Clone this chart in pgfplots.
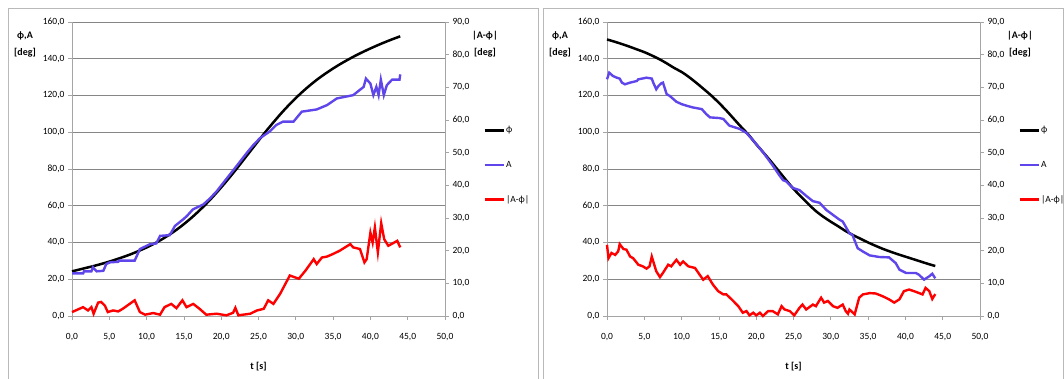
\documentclass[border=0pt]{standalone}
\usepackage{fontspec}
\setmainfont{Carlito}
\usepackage{pgfplots}
\pgfplotsset{compat=1.18}

\definecolor{gridc}{RGB}{134,134,134}
\definecolor{axc}{RGB}{165,165,165}
\definecolor{framec}{RGB}{185,185,185}
\definecolor{Ablue}{RGB}{95,70,235}
\definecolor{Ared}{RGB}{255,0,0}

\pgfplotsset{
  chartbase/.style={
    scale only axis, width=373pt, height=294pt,
    xmin=0, xmax=50, xtick distance=5,
    /pgf/number format/fixed, /pgf/number format/fixed zerofill,
    /pgf/number format/precision=1, /pgf/number format/use comma,
    /pgf/number format/assume math mode=true,
    tick label style={font=\fontsize{9.5}{11}\selectfont},
    xticklabel style={yshift=-10pt},
    tick align=outside, major tick length=4pt,
    tick style={axc, line width=0.8pt},
    axis line style={axc, line width=0.8pt, -},
    clip=false,
  },
  leftax/.style={chartbase,
    ymin=0, ymax=160, ytick distance=20,
    axis y line*=left, axis x line*=bottom,
    ymajorgrids, grid style={gridc, line width=0.8pt},
    xlabel={\textbf{t [s]}},
    xlabel style={at={(axis description cs:0.5,0)}, anchor=center, yshift=-51pt, font=\fontsize{10}{11}\selectfont},
    ylabel={\textbf{ϕ,A}\\\textbf{[deg]}},
    ylabel style={rotate=-90, at={(axis description cs:0,1)}, anchor=center, align=center, xshift=-47pt, yshift=-22pt, font=\fontsize{10}{17}\selectfont},
  },
  rightax/.style={chartbase,
    ymin=0, ymax=90, ytick distance=10,
    axis y line*=right, axis x line=none,
    ylabel={\textbf{|A-ϕ|}\\\textbf{[deg]}},
    ylabel style={rotate=-90, at={(axis description cs:1,1)}, anchor=center, align=center, xshift=40pt, yshift=-22pt, font=\fontsize{10}{17}\selectfont},
    legend style={draw=none, fill=none, at={(rel axis cs:1,1)}, anchor=north west,
      xshift=38pt, yshift=-103pt, font=\fontsize{9.5}{11}\selectfont,
      row sep=25pt, inner sep=0pt, nodes={inner sep=1pt}},
    legend cell align=left,
    legend image code/.code={\draw[#1, line width=2.8pt] (0pt,0pt) -- (19pt,0pt);},
  },
}

\begin{document}
\begin{tikzpicture}[x=1pt,y=1pt]
\path[use as bounding box] (0,0) rectangle (1064,379);
\begin{scope}
\clip (0,0) rectangle (1064,379);
\draw[framec, line width=0.8pt] (8,371) rectangle (538,-10);
\draw[framec, line width=0.8pt] (543,371) rectangle (1063,-10);
\end{scope}

% ---------------- Left chart ----------------
\begin{axis}[leftax, at={(72pt,63pt)}, anchor=south west]
\addplot[black, line width=2.5pt, smooth] coordinates {
(0,24.3)(1,25.3)(2,26.3)(3,27.3)(4,28.4)(5,29.6)(6,30.9)(7,32.3)(8,33.8)(9,35.5)
(10,37.3)(11,39.3)(12,41.6)(13,44.1)(14,46.9)(15,50)(16,53.4)(17,57.1)(18,61.1)(19,65.4)
(20,70)(21,74.8)(22,79.8)(23,85)(24,90.2)(25,95.4)(26,100.5)(27,105.4)(28,110.1)(29,114.5)
(30,118.6)(31,122.4)(32,125.9)(33,129.1)(34,132)(35,134.7)(36,137.2)(37,139.5)(38,141.7)(39,143.7)
(40,145.6)(41,147.4)(42,149.1)(43,150.7)(44,152.2)};
\addplot[Ablue, line width=2.4pt] coordinates {
(0,23.2)(1.5,23.2)(1.6,24.3)(2.6,24.3)(2.8,26.5)(3.3,24.3)(4.2,24.6)(4.6,28.3)(5.1,29.2)
(6.2,29.5)(6.3,30.1)(8.4,30.1)(9.1,36.4)(10.4,39)(11.3,39.5)(11.8,43.6)(13.1,44)(13.8,49)
(14.9,52.6)(15.4,54.4)(16.2,58)(17.6,60.7)(18.5,64)(19.4,67.9)(20.7,74.6)(22.1,81.8)(23.4,88.6)
(24.3,93)(25.2,96.8)(26.5,100.4)(27.4,104)(28.3,105.8)(29.7,105.8)(30.8,111.2)(32.8,112.4)
(34.2,114.8)(35.5,118.4)(37.7,120.2)(39.1,124.7)(39.4,129.2)(40,126.5)(40.4,120.2)(40.8,124.7)
(41.1,120.2)(41.4,128.6)(41.8,120.2)(42.2,125.6)(42.9,128.6)(43.9,128.6)(44,131.5)};
\end{axis}
\begin{axis}[rightax, at={(72pt,63pt)}, anchor=south west]
\addlegendimage{black}
\addlegendentry{ϕ}
\addlegendimage{Ablue}
\addlegendentry{A}
\addplot[Ared, line width=2.4pt] coordinates {
(0,1.2)(1.48,2.7)(2.15,1.7)(2.6,2.7)(2.9,0.7)(3.5,4.1)(3.9,4.3)(4.4,3.2)(4.8,1.2)(5.5,1.7)
(6.2,1.4)(6.8,2.2)(8.4,4.8)(9.1,1.2)(9.8,0.4)(10.9,0.9)(11.8,0.4)(12.4,2.7)(13.3,3.7)(14.0,2.4)
(14.8,4.8)(15.35,2.7)(16.25,3.7)(17.1,2.2)(18.0,0.4)(19.4,0.7)(20.7,0.2)(21.6,1.0)(21.9,2.5)(22.3,0.2)
(23.9,0.7)(24.8,1.7)(25.7,2.2)(26.3,4.8)(27.0,3.7)(27.9,6.8)(29.2,12.4)(30.4,11.4)(31.3,13.9)
(32.4,17.4)(32.8,15.9)(33.5,17.9)(34.2,18.2)(35.0,19.0)(35.9,20.0)(37.3,22.0)(37.7,21.0)(38.6,20.5)
(39.2,16.4)(39.5,17.4)(40.0,25.5)(40.3,22.5)(40.6,27.1)(41.0,19.5)(41.45,28.4)(41.85,23.5)
(42.4,21.5)(43.6,23.0)(44.0,21.0)};
\addlegendentry{|A-ϕ|}
\end{axis}

% ---------------- Right chart ----------------
\begin{axis}[leftax, at={(607pt,63pt)}, anchor=south west]
\addplot[black, line width=2.5pt, smooth] coordinates {
(0,150.5)(1,149.3)(2,148)(3,146.6)(4,145.1)(5,143.6)(6,141.8)(7,139.8)(8,137.5)(9,135)
(10,132.8)(11,130)(12,126.8)(13,123.4)(14,119.9)(15,116)(16,111.8)(17,107.3)(18,102.8)(19,98.5)
(20,93.5)(21,88.8)(22,84)(23,79)(24,74)(25,69.2)(26,65)(27,60.9)(28,57.1)(29,54)
(30,51.3)(31,48.8)(32,46.2)(33,44)(34,42)(35,40)(36,38.2)(37,36.5)(38,35)(39,33.6)
(40,32.3)(41,31)(42,29.7)(43,28.4)(44,27.2)};
\addplot[Ablue, line width=2.4pt] coordinates {
(0,128.8)(0.3,132.4)(0.8,130.6)(1.3,129.7)(1.7,129.2)(2,127)(2.4,126.1)(3.1,127)(4,127.9)(4.2,128.8)
(5.3,129.7)(6,129.2)(6.2,127)(6.6,123.4)(6.9,125.2)(7.3,126.7)(7.5,127)(8,120.7)(8.4,119.8)
(9.3,116.6)(10,115.3)(10.7,114.4)(11.5,113.5)(12.7,112.6)(13.3,109.9)(13.8,108.1)(15.1,107.7)
(15.6,107.2)(16.4,103.6)(17.8,101.8)(18.7,99.6)(19.6,95.5)(20.9,89.2)(22.2,82)(23.1,76.6)
(23.6,73.9)(24,73.3)(24.9,69.7)(25.8,68.5)(26.7,65.4)(27.6,62.5)(28.5,61.6)(29.4,57.7)
(30.3,55)(31.1,52.6)(31.6,51.4)(32,48.6)(32.5,45)(32.9,44.1)(33.6,36.9)(34.3,35.1)(35.2,33)
(36.5,32.1)(37.8,31.9)(38.7,28.8)(39.2,25.2)(40.1,23.4)(41.4,23.4)(41.8,22.5)(42.5,19.8)
(43.2,21.6)(43.6,23)(44,20.5)};
\end{axis}
\begin{axis}[rightax, at={(607pt,63pt)}, anchor=south west]
\addlegendimage{black}
\addlegendentry{ϕ}
\addlegendimage{Ablue}
\addlegendentry{A}
\addplot[Ared, line width=2.4pt] coordinates {
(0,21.8)(0.2,17.7)(0.6,19.3)(1.1,18.7)(1.5,19.8)(1.7,22)(2.2,20.5)(2.6,20.3)(3.1,18.2)(3.5,17.7)
(4.2,15.7)(4.8,15.2)(5.3,14.5)(5.7,15.2)(6,18.2)(6.6,13.7)(7.1,11.9)(7.5,13.2)(8.2,15.7)(8.6,15.2)
(9.3,17.2)(9.8,15.7)(10.2,16.7)(10.9,15.2)(11.8,14.7)(12.4,12.7)(12.9,11.1)(13.5,12.2)(14.2,9.6)
(14.9,7.6)(15.6,6.6)(16,6.6)(16.7,5.1)(17.6,3.0)(18.2,1.0)(18.7,1.5)(19.1,0.2)(19.6,1.0)(20,0.2)
(20.5,1.0)(20.9,0)(21.6,1.5)(22.2,1.5)(22.9,0.5)(23.4,3.0)(23.8,2.0)(24.5,1.5)(25.1,0.2)(25.8,2.5)
(26.2,3.5)(26.7,2.0)(27.6,3.5)(28,3.0)(28.7,5.6)(29.1,4.1)(29.6,4.6)(30.3,3.0)(30.9,2.5)(31.6,3.5)
(32,1.5)(32.3,0.7)(32.5,2.0)(33.2,0.5)(33.8,5.6)(34.3,6.6)(35.2,7.0)(36,6.9)(36.9,6.1)(37.8,5.1)
(38.5,4.1)(39.2,5.1)(39.8,7.6)(40.5,8.1)(41.4,7.4)(42.3,6.6)(42.7,8.6)(43.2,7.6)(43.6,5.2)(44,6.7)};
\addlegendentry{|A-ϕ|}
\end{axis}
\end{tikzpicture}
\end{document}
